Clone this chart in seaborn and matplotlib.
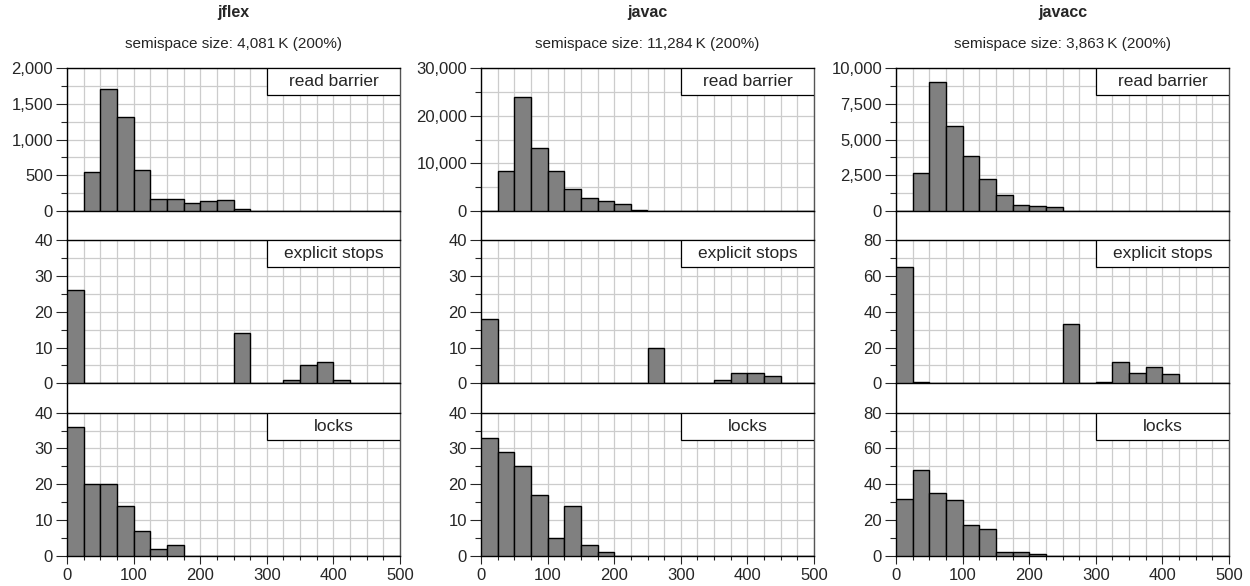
import numpy as np
import pandas as pd
import matplotlib
matplotlib.use("Agg")
import matplotlib.pyplot as plt
import matplotlib.ticker as mticker
from matplotlib.patches import Rectangle
import seaborn as sns

# bins of 25 from 0 to 500
bin_width = 25
bin_centers = np.arange(0, 500, bin_width) + bin_width / 2

benchmarks = ["jflex", "javac", "javacc"]
subtitles = ["semispace size: 4,081\u2009K (200%)",
             "semispace size: 11,284\u2009K (200%)",
             "semispace size: 3,863\u2009K (200%)"]
row_labels = ["read barrier", "explicit stops", "locks"]

jflex_read = [0, 540, 1700, 1320, 575, 165, 165, 110, 140, 160, 30, 0, 0, 0, 0, 0, 0, 0, 0, 0]
jflex_stops = [26, 0, 0, 0, 0, 0, 0, 0, 0, 0, 14, 0, 0, 1, 5, 6, 1, 0, 0, 0]
jflex_locks = [36, 20, 20, 14, 7, 2, 3, 0, 0, 0, 0, 0, 0, 0, 0, 0, 0, 0, 0, 0]

javac_read = [0, 8300, 24000, 13200, 8300, 4600, 2700, 2000, 1400, 150, 0, 0, 0, 0, 0, 0, 0, 0, 0, 0]
javac_stops = [18, 0, 0, 0, 0, 0, 0, 0, 0, 0, 10, 0, 0, 0, 1, 3, 3, 2, 0, 0]
javac_locks = [33, 29, 25, 17, 5, 14, 3, 1, 0, 0, 0, 0, 0, 0, 0, 0, 0, 0, 0, 0]

javacc_read = [0, 2650, 9050, 5950, 3850, 2250, 1100, 450, 380, 250, 30, 0, 0, 0, 0, 0, 0, 0, 0, 0]
javacc_stops = [65, 1, 0, 0, 0, 0, 0, 0, 0, 0, 33, 0, 1, 12, 6, 9, 5, 0, 0, 0]
javacc_locks = [32, 48, 35, 31, 17, 15, 2, 2, 1, 0, 0, 0, 0, 0, 0, 0, 0, 0, 0, 0]

counts = [[jflex_read, jflex_stops, jflex_locks],
          [javac_read, javac_stops, javac_locks],
          [javacc_read, javacc_stops, javacc_locks]]

# y limit, major step, minor step per column/row
ylims = [[(2000, 500, 250), (40, 10, 5), (40, 10, 5)],
         [(30000, 10000, 5000), (40, 10, 5), (40, 10, 5)],
         [(10000, 2500, 1250), (80, 20, 10), (80, 20, 10)]]

sns.set_style("white")
plt.rcParams["font.family"] = ["Liberation Sans", "DejaVu Sans"]
plt.rcParams["font.size"] = 10

fig = plt.figure(figsize=(12.5, 5.86), dpi=100)

lefts = [67 / 1250, 481 / 1250, 896 / 1250]
width = 333 / 1250
bottoms = [1 - 211 / 586, 1 - 383.3 / 586, 1 - 555.7 / 586]
height = 143 / 586
gap = (bottoms[0] - bottoms[1] - height) / height

for c in range(3):
    for r in range(3):
        ax = fig.add_axes([lefts[c], bottoms[r], width, height])
        df = pd.DataFrame({"pause": bin_centers, "n": counts[c][r]})
        sns.histplot(data=df, x="pause", weights="n", binwidth=bin_width,
                     binrange=(0, 500), color="#808080", alpha=1,
                     edgecolor="black", linewidth=1.0, ax=ax, zorder=3)
        ymax, major, minor = ylims[c][r]
        ax.set_xlim(0, 500)
        ax.set_ylim(0, ymax)
        ax.xaxis.set_major_locator(mticker.MultipleLocator(100))
        ax.xaxis.set_minor_locator(mticker.MultipleLocator(25))
        ax.yaxis.set_major_locator(mticker.MultipleLocator(major))
        ax.yaxis.set_minor_locator(mticker.MultipleLocator(minor))
        ax.yaxis.set_major_formatter(mticker.StrMethodFormatter("{x:,.0f}"))
        ax.grid(which="both", color="#cccccc", linewidth=0.9, zorder=0)
        ax.set_axisbelow(True)
        ax.set_xlabel("")
        ax.set_ylabel("")
        for s in ["left", "bottom", "top"]:
            ax.spines[s].set_visible(True)
            ax.spines[s].set_color("black")
            ax.spines[s].set_linewidth(1.0)
        ax.spines["right"].set_visible(True)
        ax.spines["right"].set_color("#555555")
        ax.spines["right"].set_linewidth(1.0)
        ax.tick_params(axis="y", which="major", direction="out", length=8,
                       width=0.8, labelsize=12, pad=2, left=True)
        ax.tick_params(axis="y", which="minor", direction="out", length=4,
                       width=0.8, left=True)
        if r == 2:
            ax.tick_params(axis="x", which="major", direction="out", length=6,
                           width=0.8, labelsize=12, pad=3, bottom=True)
            ax.tick_params(axis="x", which="minor", direction="out", length=3,
                           width=0.8, bottom=True)
        else:
            ax.tick_params(axis="x", which="both", bottom=False,
                           labelbottom=False)
            # continue the side frame lines through the gap below
            ax.plot([0, 0], [0, -gap], transform=ax.transAxes, color="black",
                    linewidth=1.0, clip_on=False)
            ax.plot([1, 1], [0, -gap], transform=ax.transAxes, color="#555555",
                    linewidth=1.0, clip_on=False)

        # label box in the upper right corner
        ax.add_patch(Rectangle((0.6, 0.81), 0.4, 0.19, transform=ax.transAxes,
                               facecolor="white", edgecolor="black",
                               linewidth=0.9, zorder=5))
        ax.text(0.8, 0.905, row_labels[r], transform=ax.transAxes,
                ha="center", va="center", fontsize=12.5, zorder=6)

        if r == 0:
            ax.text(0.5, 1.0 + 55 / 143, benchmarks[c], transform=ax.transAxes,
                    ha="center", va="center", fontsize=11.5, fontweight="bold")
            ax.text(0.5, 1.0 + 24 / 143, subtitles[c], transform=ax.transAxes,
                    ha="center", va="center", fontsize=11)

fig.savefig("out.png", dpi=100)
